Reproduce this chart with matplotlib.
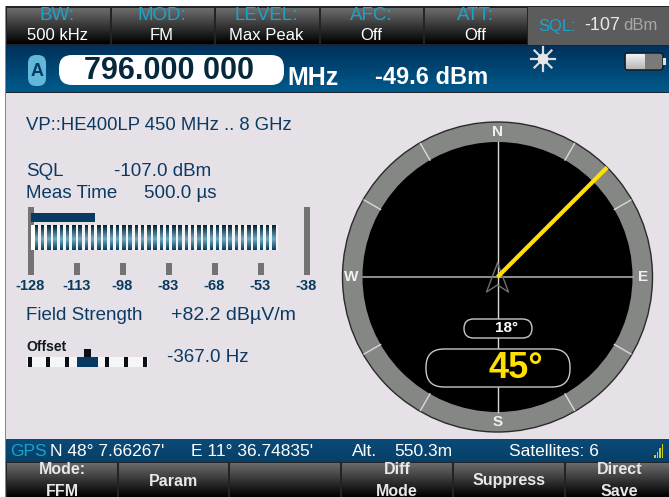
#!/usr/bin/env python3
"""Receiver screen: field strength meter and compass display."""

import numpy as np
import matplotlib
matplotlib.use("Agg")
import matplotlib.pyplot as plt
from matplotlib.patches import Circle, FancyBboxPatch, Rectangle

plt.rcParams["font.family"] = ["Liberation Sans", "DejaVu Sans"]

# header
head_titles = ["BW:", "MOD:", "LEVEL:", "AFC:", "ATT:"]
head_values = ["500 kHz", "FM", "Max Peak", "Off", "Off"]
# softkeys
soft_labels = ["Mode:\nFFM", "Param", "", "Diff\nMode", "Suppress", "Direct\nSave"]
# level meter
scale_labels = [-128, -113, -98, -83, -68, -53, -38]
level_dbm = -107.0
# compass
bearing = 45
compass_ticks = [30, 60, 120, 150, 210, 240, 300, 330]
compass_letters = ["N", "E", "S", "W"]
compass_letter_deg = [0, 90, 180, 270]

BLUE = "#0a3a64"
NAVY = "#063a63"
CYAN = "#1aa3cc"

fig = plt.figure(figsize=(6.69, 4.97), dpi=100)
ax = fig.add_axes([0, 0, 1, 1])
ax.set_xlim(0, 669)
ax.set_ylim(497, 0)
ax.axis("off")


def gradient(x0, x1, y0, y1, top, bottom, z=1):
    c0 = np.array(matplotlib.colors.to_rgb(top))
    c1 = np.array(matplotlib.colors.to_rgb(bottom))
    t = np.linspace(0, 1, 32)[:, None, None]
    img = c0[None, None, :] * (1 - t) + c1[None, None, :] * t
    ax.imshow(img, extent=(x0, x1, y1, y0), aspect="auto", zorder=z, interpolation="bilinear")


def rect(x0, y0, x1, y1, color, z=2):
    ax.add_patch(Rectangle((x0, y0), x1 - x0, y1 - y0, fc=color, ec="none", zorder=z))


def pill(x0, y0, x1, y1, r, fc, ec, lw=1.0, z=6):
    ax.add_patch(FancyBboxPatch((x0 + r, y0 + r), x1 - x0 - 2 * r, y1 - y0 - 2 * r,
                                boxstyle=f"round,pad={r},rounding_size={r}",
                                fc=fc, ec=ec, lw=lw, zorder=z))


# frame and backgrounds
rect(5, 6, 669, 497, "#202428", 0)
rect(5, 93, 669, 439, "#e6e1e6", 1)
rect(5, 6, 6, 497, "#3f9fc4", 9)
gradient(6, 669, 46, 92, "#00325c", "#005a8c")
gradient(6, 669, 439, 462, "#0b4a78", "#064068")

# top row of status buttons
head_x0 = [7, 112, 216, 321, 425]
head_x1 = [110, 214, 319, 423, 527]
for i in range(len(head_titles)):
    gradient(head_x0[i], head_x1[i], 8, 44, "#6c6c6c", "#000000", 2)
    xc = (head_x0[i] + head_x1[i]) / 2
    ax.text(xc - 1, 16, head_titles[i], color=CYAN, fontsize=13.5, ha="center", va="center", zorder=5)
    ax.text(xc - 1, 35, head_values[i], color="white", fontsize=12, ha="center", va="center", zorder=5)
rect(528, 7, 669, 45, "#5c5c5c")
ax.text(538, 26, "SQL:", color=CYAN, fontsize=12, va="center", zorder=5)
ax.text(584, 26, "-107", color="#e8e8e8", fontsize=13, va="center", zorder=5)
ax.text(623, 26, "dBm", color="#a8a8a8", fontsize=12, va="center", zorder=5)

# frequency row
pill(28, 55, 46, 86, 8, "#62b8d8", "none", z=4)
ax.text(37, 71, "A", color=NAVY, fontsize=13, fontweight="bold", ha="center", va="center", zorder=5)
pill(59, 55, 284, 85, 13, "white", "none", z=4)
ax.text(169, 71, "796.000 000", color="#06283c", fontsize=22, fontweight="bold",
        ha="center", va="center", zorder=5)
ax.text(287, 78, "MHz", color="white", fontsize=18, fontweight="bold", va="center", zorder=5)
ax.text(375, 77, "-49.6 dBm", color="white", fontsize=17, fontweight="bold", va="center", zorder=5)

# sun icon
for a in np.arange(0, 180, 45):
    dx, dy = 12 * np.sin(np.radians(a)), 12 * np.cos(np.radians(a))
    ax.plot([543 - dx, 543 + dx], [59 - dy, 59 + dy], color="#dcdcdc", lw=1.6, zorder=5)
ax.add_patch(Circle((543, 59), 5.5, fc="#e6e6e6", ec="none", zorder=5))

# battery icon
pill(625, 53, 663, 70, 3, "#7a7a7a", "#101820", lw=1, z=4)
gradient(626, 645, 54, 69, "#f2f2f2", "#b8b8b8", 5)
rect(663, 58, 666, 65, "#e0e0e0", 5)

# left text block
ax.text(26, 125, "VP::HE400LP 450 MHz .. 8 GHz", color=BLUE, fontsize=13.3, va="center", zorder=5)
ax.text(26, 172, "SQL", color=BLUE, fontsize=13.5, va="center", zorder=5)
ax.text(114, 172, "-107.0 dBm", color=BLUE, fontsize=13.5, va="center", zorder=5)
ax.text(26, 194, "Meas Time", color=BLUE, fontsize=13.5, va="center", zorder=5)
ax.text(144, 194, "500.0 µs", color=BLUE, fontsize=13.5, va="center", zorder=5)

# level meter, scale from -128 to -38 dBm
ax_x = lambda v: 30.5 + (v - scale_labels[0]) * (306.5 - 30.5) / (scale_labels[-1] - scale_labels[0])
for i, v in enumerate(scale_labels):
    y0 = 207 if i in (0, len(scale_labels) - 1) else 263
    rect(ax_x(v) - 3, y0, ax_x(v) + 3, 275, "#737373", 3)
    ax.text(ax_x(v), 286, str(v), color=NAVY, fontsize=10.5, fontweight="bold",
            ha="center", va="center", zorder=5)
rect(31, 225, 276, 250, "white", 3)
gradient(34.5, 275, 225, 239, "#03202f", "#6fa8c0", 4)
gradient(34.5, 275, 239, 250, "#6fa8c0", "#0a3a58", 4)
for sx in np.arange(34.5, 275, 6.25):
    rect(sx + 3.5, 225, sx + 6.25, 250, "#f4f4f6", 4.5)
rect(31, 213, ax_x(level_dbm), 222, NAVY, 5)

ax.text(26, 316, "Field Strength", color=BLUE, fontsize=13.5, va="center", zorder=5)
ax.text(171, 316, "+82.2 dBµV/m", color=BLUE, fontsize=14, va="center", zorder=5)

# offset indicator
ax.text(26, 347, "Offset", color="#101820", fontsize=10, fontweight="bold", va="center", zorder=5)
rect(27, 357, 148, 367, "#f6f6f8", 3)
for tx in [29.5, 48, 67, 107, 126, 145]:
    rect(tx - 2, 357, tx + 2, 367, "#0a0f14", 4)
rect(77, 357, 98, 367, NAVY, 4)
rect(84, 349, 91, 357, "#0a0f14", 4)
ax.text(167, 357, "-367.0 Hz", color=BLUE, fontsize=13.5, va="center", zorder=5)

# compass
cx, cy = 497.5, 277
r_out, r_in = 155, 135
ax.add_patch(Circle((cx, cy), r_out, fc="#858785", ec="#2a2a2a", lw=1, zorder=2))
ax.add_patch(Circle((cx, cy), r_in, fc="#000000", ec="none", zorder=3))
for a in compass_ticks:
    s, c = np.sin(np.radians(a)), np.cos(np.radians(a))
    ax.plot([cx + r_in * s, cx + (r_out - 1) * s], [cy - r_in * c, cy - (r_out - 1) * c],
            color="#d8d8d8", lw=1, zorder=4)
ax.plot([cx, cx], [cy - r_in, cy + r_in], color="#d8d8d8", lw=1, zorder=4)
ax.plot([cx - r_in, cx + r_in], [cy, cy], color="#a8a8a8", lw=1.2, zorder=4)
for t, a in zip(compass_letters, compass_letter_deg):
    s, c = np.sin(np.radians(a)), np.cos(np.radians(a))
    ax.text(cx + 146 * s, cy - 145 * c, t, color="#f0f0f0", fontsize=11, fontweight="bold",
            ha="center", va="center", zorder=6)

# north arrow outline
ax.plot([cx, cx - 11, cx, cx + 11, cx], [cy - 14, cy + 15, cy + 8, cy + 15, cy - 14],
        color="#707070", lw=1, zorder=5)

# bearing line
s, c = np.sin(np.radians(bearing)), np.cos(np.radians(bearing))
ax.plot([cx, cx + r_out * s], [cy, cy - r_out * c], color="#ffe000", lw=3, zorder=5,
        solid_capstyle="butt")

pill(464, 319, 532, 338, 9.5, "black", "#c8c8c8", lw=1)
ax.text(506, 328, "18°", color="white", fontsize=11, fontweight="bold", ha="center", va="center", zorder=7)
pill(426, 349, 570, 387, 18, "black", "#c8c8c8", lw=1)
ax.text(516, 369, f"{bearing}°", color="#ffe000", fontsize=26, fontweight="bold",
        ha="center", va="center", zorder=7)

# gps row
ax.text(10, 451, "GPS", color=CYAN, fontsize=12.5, va="center", zorder=5)
ax.text(50, 451, "N 48° 7.66267'", color="white", fontsize=12.5, va="center", zorder=5)
ax.text(191, 451, "E 11° 36.74835'", color="white", fontsize=12.5, va="center", zorder=5)
ax.text(352, 451, "Alt.", color="white", fontsize=12.5, va="center", zorder=5)
ax.text(394, 451, "550.3m", color="white", fontsize=12.5, va="center", zorder=5)
ax.text(509, 451, "Satellites: 6", color="white", fontsize=12.5, va="center", zorder=5)
for i, h in enumerate([3, 6, 10, 14]):
    rect(654 + i * 2.5, 458 - h, 655.5 + i * 2.5, 458, "#c8d020", 5)

# softkeys
soft_x0 = [7, 119, 230, 342, 454, 566]
soft_x1 = [117, 228, 340, 452, 564, 669]
for i, t in enumerate(soft_labels):
    gradient(soft_x0[i], soft_x1[i], 463, 497, "#6a6a6a", "#000000", 2)
    xc = (soft_x0[i] + soft_x1[i]) / 2 + (2 if i == 5 else 0)
    parts = t.split("\n")
    if len(parts) == 2:
        ax.text(xc, 470, parts[0], color="#e8e8e8", fontsize=11.5, fontweight="bold", ha="center", va="center", zorder=5)
        ax.text(xc, 491, parts[1], color="#e8e8e8", fontsize=11.5, fontweight="bold", ha="center", va="center", zorder=5)
    elif t:
        ax.text(xc, 481, t, color="#e8e8e8", fontsize=11.5, fontweight="bold", ha="center", va="center", zorder=5)

ax.set_xlim(0, 669)
ax.set_ylim(497, 0)
fig.savefig("out.png", dpi=100)
